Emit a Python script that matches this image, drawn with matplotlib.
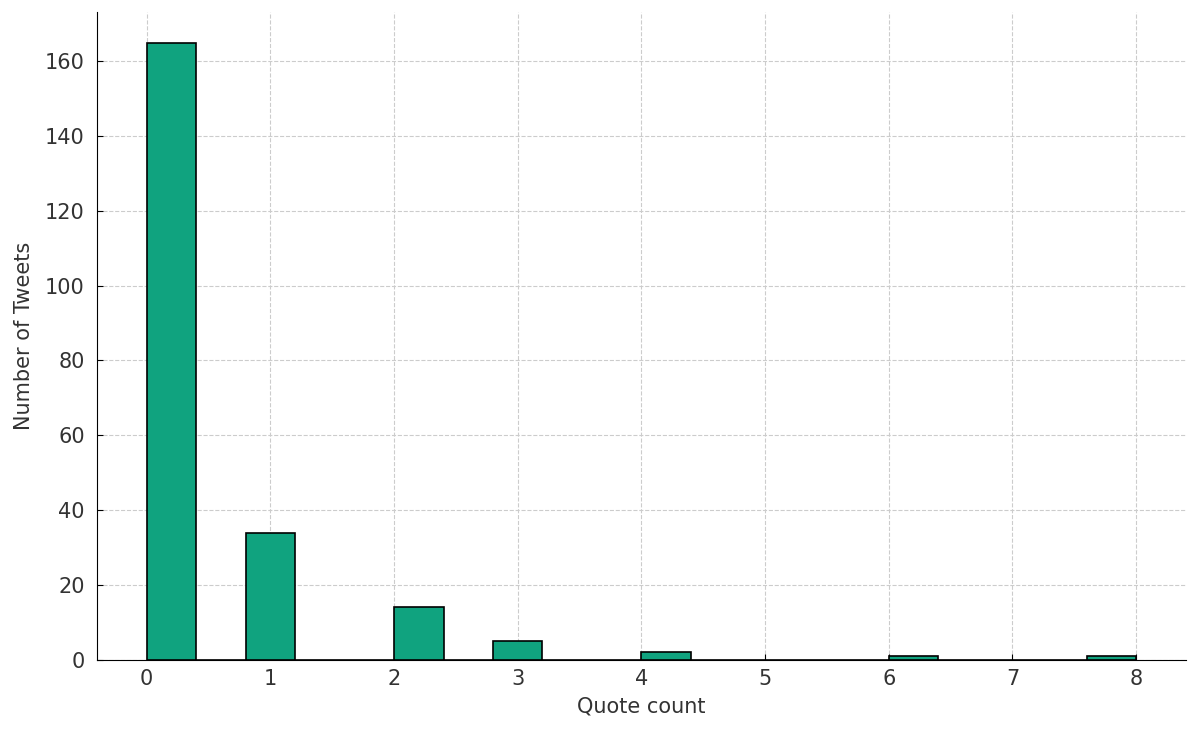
import matplotlib.pyplot as plt
import numpy as np

# quote count values and how many tweets have each
quote_values = [0, 1, 2, 3, 4, 6, 8]
tweet_counts = [165, 34, 14, 5, 2, 1, 1]

fig, ax = plt.subplots(figsize=(12, 7.33), dpi=100)
ax.hist(quote_values, bins=20, weights=tweet_counts,
        color='#10a37f', edgecolor='black', linewidth=1.2)

ax.set_xlabel('Quote count', fontsize=15, labelpad=5, color='#333333')
ax.set_ylabel('Number of Tweets', fontsize=15, labelpad=8, color='#333333')
ax.tick_params(axis='x', pad=7)
ax.tick_params(axis='y', pad=9)
ax.tick_params(labelsize=15, direction='in', length=4, labelcolor='#333333')
ax.grid(True, linestyle='--', color='#cccccc', linewidth=0.8)
ax.set_axisbelow(True)
ax.spines['top'].set_visible(False)
ax.spines['right'].set_visible(False)

plt.subplots_adjust(left=0.081, right=0.988, top=0.984, bottom=0.1)
plt.savefig('out.png')
